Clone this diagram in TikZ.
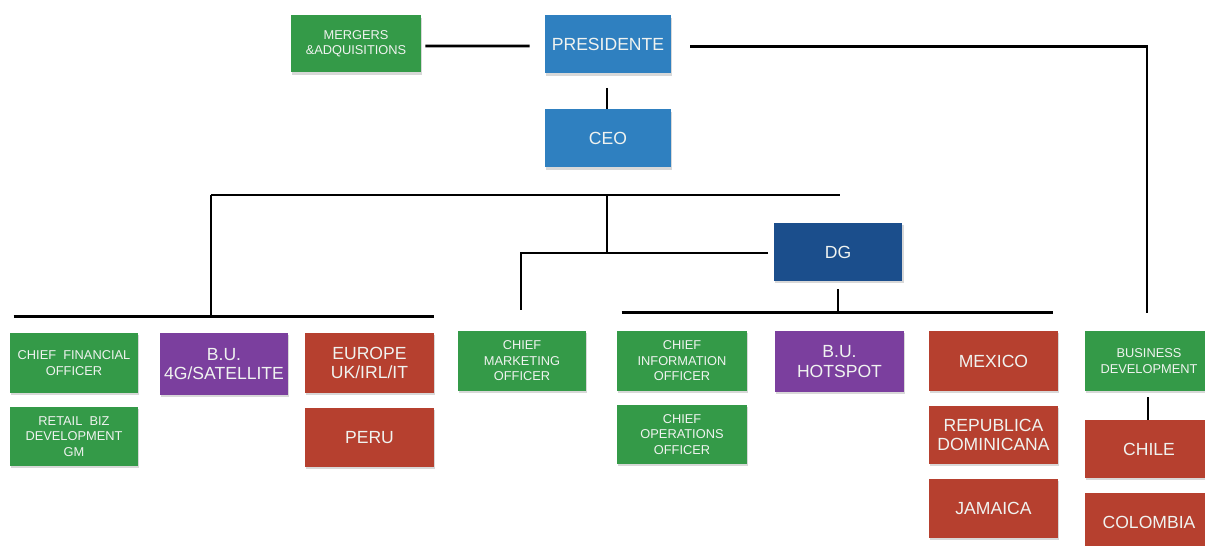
\documentclass[tikz,border=0pt]{standalone}
\usepackage{fontspec}
\setmainfont{Liberation Sans}
\usetikzlibrary{calc,shadows}
\definecolor{bxgreen}{RGB}{52,154,72}
\definecolor{bxblue}{RGB}{47,128,192}
\definecolor{bxdark}{RGB}{27,78,140}
\definecolor{bxpurple}{RGB}{123,63,158}
\definecolor{bxred}{RGB}{182,64,47}
\definecolor{bxtext}{RGB}{240,243,240}
\tikzset{
  box/.style={inner sep=0pt, align=center, text=bxtext,
    drop shadow={shadow xshift=0.6pt, shadow yshift=-1.2pt, opacity=0.3}},
  small/.style={font=\fontsize{7.3}{8.8}\selectfont},
  big/.style={font=\fontsize{10}{11.2}\selectfont},
  gbox/.style={box, fill=bxgreen, small},
  bbox/.style={box, fill=bxblue, big},
  dbox/.style={box, fill=bxdark, big},
  pbox/.style={box, fill=bxpurple, big},
  rbox/.style={box, fill=bxred, big},
  link/.style={draw=black, line width=1.6pt},
}
\begin{document}
\begin{tikzpicture}[x=0.02cm, y=-0.02cm]
\fill[white] (0,0) rectangle (1205,546);
\useasboundingbox (0,0) rectangle (1205,546);

% top
\node[gbox, minimum width=2.60cm, minimum height=1.14cm] (merg) at (356,44) {MERGERS\\\&ADQUISITIONS};
\node[bbox, minimum width=2.52cm, minimum height=1.16cm] (pres) at (608,44.5) {PRESIDENTE};
\node[bbox, minimum width=2.52cm, minimum height=1.16cm] (ceo) at (608,138.5) {CEO};
\node[dbox, minimum width=2.58cm, minimum height=1.16cm] (dg) at (838,252) {DG};

% bottom row
\node[gbox, minimum width=2.56cm, minimum height=1.20cm] (cfo) at (74,363) {CHIEF\ \ FINANCIAL\\OFFICER};
\node[gbox, minimum width=2.56cm, minimum height=1.18cm] (retail) at (74,436.5) {RETAIL\ \ BIZ\\DEVELOPMENT\\GM};
\node[pbox, minimum width=2.56cm, minimum height=1.24cm] (bu4g) at (224,364) {B.U.\\4G/SATELLITE};
\node[rbox, minimum width=2.58cm, minimum height=1.20cm] (europe) at (369.5,363) {EUROPE\\UK/IRL/IT};
\node[rbox, minimum width=2.58cm, minimum height=1.18cm] (peru) at (369.5,437.5) {PERU};
\node[gbox, minimum width=2.56cm, minimum height=1.20cm] (cmo) at (522,361) {CHIEF\\MARKETING\\OFFICER};
\node[gbox, minimum width=2.60cm, minimum height=1.20cm] (cio) at (682,361) {CHIEF\\INFORMATION\\OFFICER};
\node[gbox, minimum width=2.60cm, minimum height=1.18cm] (coo) at (682,434.5) {CHIEF\\OPERATIONS\\OFFICER};
\node[pbox, minimum width=2.58cm, minimum height=1.22cm] (hot) at (839.5,361.5) {B.U.\\HOTSPOT};
\node[rbox, minimum width=2.58cm, minimum height=1.20cm] (mex) at (993.5,361) {MEXICO};
\node[rbox, minimum width=2.58cm, minimum height=1.16cm] (repdom) at (993.5,435) {REPUBLICA\\DOMINICANA};
\node[rbox, minimum width=2.58cm, minimum height=1.18cm] (jam) at (993.5,508.5) {JAMAICA};
\node[gbox, minimum width=2.56cm, minimum height=1.20cm] (busdev) at (1149,361) {BUSINESS\\DEVELOPMENT};
\node[rbox, minimum width=2.56cm, minimum height=1.16cm] (chile) at (1149,449) {CHILE};
\node[rbox, minimum width=2.56cm, minimum height=1.18cm] (colom) at (1149,522.5) {COLOMBIA};

% junction coordinates
\coordinate (barL) at (211,195);
\coordinate (barR) at (840,195);
\coordinate (ceoBar) at (607,195);
\coordinate (midJ) at (607,253);
\coordinate (leftJ) at (211,317);
\coordinate (lbarL) at ($(cfo.north west)+(4,-16)$);
\coordinate (lbarR) at ($(europe.north east)+(0,-16)$);
\coordinate (dgbarL) at ($(cio.north west)+(5,-18)$);
\coordinate (dgbarR) at ($(mex.north east)+(-5,-18)$);

% connectors
\draw[link] ($(merg.east)+(4,2)$) -- ($(pres.west)+(-15,1.5)$);
\draw[link] ($(pres.east)+(19,2)$) -| ($(busdev.north)+(-2,-18)$);
\draw[link] ($(pres.south)+(-1,14)$) -- ($(ceo.north)+(-1,0)$);
\draw[link] (barL) -- (barR);
\draw[link] (ceoBar) -- (midJ);
\draw[link] ($(dg.west)+(-5,1)$) -| ($(cmo.north)+(-1,-21)$);
\draw[link] (barL) -- (leftJ);
\draw[link] (lbarL) -- (lbarR);
\draw[link] ($(dg.south)+(0,8)$) -- ($(dg.south)+(0,32)$);
\draw[link] (dgbarL) -- (dgbarR);
\draw[link] ($(busdev.south)+(-1,6)$) -- ($(chile.north)+(-1,0)$);
\end{tikzpicture}
\end{document}
